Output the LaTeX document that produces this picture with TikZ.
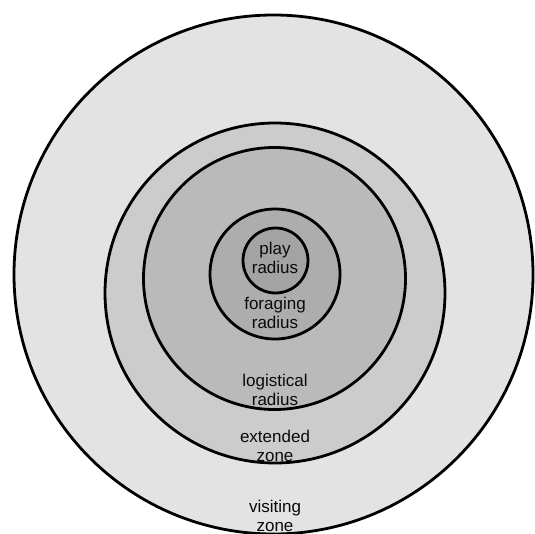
\documentclass[tikz,border=0pt]{standalone}
\usepackage{fontspec}
\setmainfont{Liberation Sans}
\usepackage{tikz}
\definecolor{ZoneA}{RGB}{227,227,227}
\definecolor{ZoneB}{RGB}{204,204,204}
\definecolor{ZoneC}{RGB}{186,186,186}
\definecolor{ZoneD}{RGB}{173,173,173}
\definecolor{ZoneE}{RGB}{163,163,163}
\definecolor{ZoneInk}{RGB}{10,10,10}

\begin{document}
\begin{tikzpicture}[x=1pt, y=-1pt,
            ring/.style={draw=black, line width=2.8pt},
            lbl/.style={align=center, text=ZoneInk, inner sep=0pt,
                        font=\fontsize{17}{19}\selectfont}
          ]
          \useasboundingbox (0,0) rectangle (535,533);

          % Zones, outside in
          \foreach \cx/\cy/\r/\col in {
            273.5/274.5/259.5/ZoneA,
            275/293/170/ZoneB,
            274.5/278.5/131/ZoneC,
            275/274/65/ZoneD,
            275.5/260.5/32.5/ZoneE}{
            \draw[ring, fill=\col] (\cx,\cy) circle[radius=\r pt];
          }

          \node[lbl] (play)  at (275,257.5) {play\\radius};
          \node[lbl] (forag) at (275,312.5) {foraging\\radius};
          \node[lbl] (logis) at (275,389.5) {logistical\\radius};
          \node[lbl] (ext)   at (275,445.5) {extended\\zone};
          \node[lbl] (visit) at (275,515.5) {visiting\\zone};
        \end{tikzpicture}
\end{document}
